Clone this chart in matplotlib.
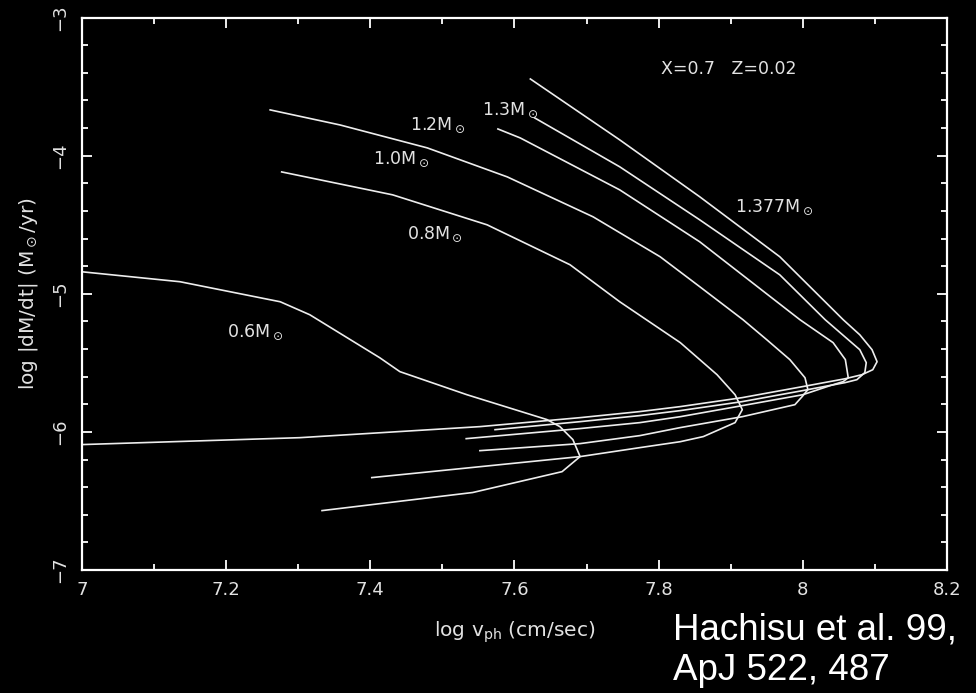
import matplotlib
matplotlib.use("Agg")
import matplotlib.pyplot as plt
from matplotlib.ticker import MultipleLocator, FuncFormatter

# ---- data ----
masses = ["0.6", "0.8", "1.0", "1.2", "1.3", "1.377"]

v_06 = [7.000, 7.136, 7.275, 7.316, 7.413, 7.441, 7.534, 7.645, 7.663, 7.681, 7.691, 7.666, 7.542, 7.333]
m_06 = [-4.841, -4.913, -5.058, -5.152, -5.463, -5.564, -5.731, -5.911, -5.962, -6.056, -6.179, -6.288, -6.439, -6.570]

v_08 = [7.277, 7.431, 7.562, 7.677, 7.746, 7.830, 7.881, 7.906, 7.916, 7.906, 7.862, 7.830, 7.774, 7.691, 7.402]
m_08 = [-4.118, -4.284, -4.501, -4.790, -5.058, -5.354, -5.586, -5.731, -5.839, -5.933, -6.034, -6.071, -6.114, -6.179, -6.331]

v_10 = [7.261, 7.358, 7.479, 7.590, 7.709, 7.802, 7.857, 7.917, 7.950, 7.982, 8.003, 8.007,
        7.999, 7.989, 7.916, 7.830, 7.774, 7.691, 7.552]
m_10 = [-3.669, -3.778, -3.944, -4.154, -4.443, -4.732, -4.949, -5.188, -5.333, -5.477, -5.608, -5.694,
        -5.745, -5.803, -5.890, -5.969, -6.027, -6.085, -6.136]

v_12 = [7.577, 7.608, 7.746, 7.857, 7.996, 8.042, 8.059, 8.063, 8.056, 8.038, 8.000, 7.916, 7.830, 7.774, 7.691, 7.533]
m_12 = [-3.807, -3.872, -4.248, -4.624, -5.188, -5.354, -5.477, -5.608, -5.636, -5.665, -5.731, -5.810, -5.890, -5.933, -5.976, -6.049]

v_13 = [7.628, 7.746, 7.857, 7.968, 8.031, 8.079, 8.088, 8.086, 8.075, 8.059, 8.000, 7.916, 7.830, 7.774, 7.691, 7.573]
m_13 = [-3.727, -4.081, -4.465, -4.863, -5.188, -5.405, -5.499, -5.571, -5.622, -5.643, -5.701, -5.781, -5.846, -5.882, -5.926, -5.984]

v_1377 = [7.622, 7.746, 7.857, 7.968, 8.056, 8.079, 8.096, 8.103, 8.097, 8.082, 8.059, 8.000, 7.916,
          7.830, 7.774, 7.691, 7.552, 7.302, 7.000]
m_1377 = [-3.445, -3.886, -4.298, -4.732, -5.188, -5.297, -5.405, -5.492, -5.550, -5.586, -5.615, -5.672, -5.752,
          -5.817, -5.853, -5.897, -5.962, -6.042, -6.092]

velocities = [v_06, v_08, v_10, v_12, v_13, v_1377]
rates = [m_06, m_08, m_10, m_12, m_13, m_1377]

# label anchor positions (data coords, left / baseline)
label_x = [7.201, 7.451, 7.404, 7.455, 7.555, 7.906]
label_y = [-5.311, -4.602, -4.060, -3.814, -3.705, -4.407]

x_ticks = [7.0, 7.2, 7.4, 7.6, 7.8, 8.0, 8.2]
y_ticks = [-7, -6, -5, -4, -3]

# ---- figure ----
line_col = "#ededed"
text_col = "#e2e2e2"

fig = plt.figure(figsize=(9.76, 6.93), dpi=100, facecolor="black")
ax = fig.add_axes([82 / 976, 1 - 570 / 693, (947 - 82) / 976, (570 - 17.5) / 693])
ax.set_facecolor("black")

for v, m in zip(velocities, rates):
    ax.plot(v, m, color=line_col, lw=1.2, solid_joinstyle="round")

for name, lx, ly in zip(masses, label_x, label_y):
    ax.text(lx, ly, name + r"M$_\odot$", color=text_col, fontsize=12.5,
            ha="left", va="baseline")

ax.text(7.803, -3.409, "X=0.7   Z=0.02", color=text_col, fontsize=12.5,
        ha="left", va="baseline")

ax.set_xlim(7, 8.2)
ax.set_ylim(-7, -3)
ax.set_xticks(x_ticks)
ax.set_yticks(y_ticks)
ax.xaxis.set_minor_locator(MultipleLocator(0.1))
ax.yaxis.set_minor_locator(MultipleLocator(0.2))

fmt = FuncFormatter(lambda v, p: f"{v:g}".replace("-", "\u2212"))
ax.xaxis.set_major_formatter(fmt)
ax.yaxis.set_major_formatter(fmt)

ax.tick_params(which="both", direction="in", top=True, right=True,
               color="white", width=1.3, labelcolor=text_col, labelsize=13)
ax.tick_params(which="major", length=7.5)
ax.tick_params(which="minor", length=4)
ax.tick_params(axis="x", pad=8)
ax.tick_params(axis="y", pad=9, labelrotation=90)
for lab in ax.get_yticklabels():
    lab.set_va("center")

for s in ax.spines.values():
    s.set_color("white")
    s.set_linewidth(1.6)

ax.set_xlabel(r"log v$_{\rm ph}$ (cm/sec)", color=text_col, fontsize=14.5, labelpad=15)
ax.set_ylabel(r"log |dM/dt| (M$_\odot$/yr)", color=text_col, fontsize=14.5, labelpad=8)

fig.text(673 / 976, 1 - 640 / 693, "Hachisu et al. 99,", color="white",
         fontsize=26.5, family="Liberation Sans", ha="left", va="baseline")
fig.text(673 / 976, 1 - 680 / 693, "ApJ 522, 487", color="white",
         fontsize=26.5, family="Liberation Sans", ha="left", va="baseline")

fig.savefig("out.png", dpi=100, facecolor="black")
